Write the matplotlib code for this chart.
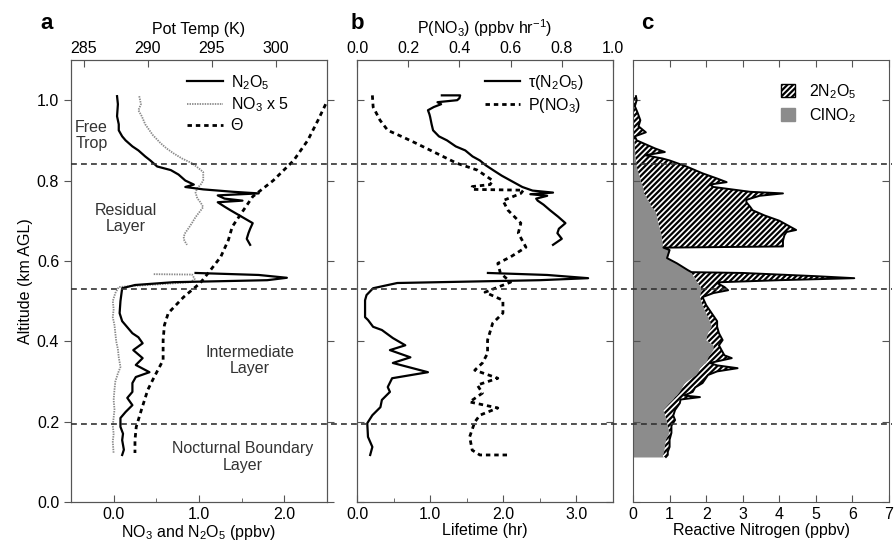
import numpy as np
import matplotlib
matplotlib.use("Agg")
import matplotlib.pyplot as plt
from matplotlib.lines import Line2D
from matplotlib.patches import Patch

plt.rcParams["font.family"] = ["Liberation Sans", "DejaVu Sans"]
plt.rcParams["mathtext.fontset"] = "custom"
plt.rcParams["mathtext.rm"] = "Liberation Sans"
plt.rcParams["mathtext.it"] = "Liberation Sans:italic"
plt.rcParams["mathtext.bf"] = "Liberation Sans:bold"
plt.rcParams["hatch.linewidth"] = 1.6
nan = np.nan

# ---------------- panel a ----------------
alt_n2o5 = [1.01, 0.99, 0.96, 0.94, 0.925, 0.91, 0.90, 0.885, 0.875, 0.86, 0.85, 0.835, 0.826,
            0.815, 0.80, 0.79, 0.784, 0.778, 0.772, 0.768, 0.765, 0.763, 0.755, 0.75, 0.746,
            0.735, 0.726, 0.71, 0.694, 0.68, 0.669, 0.655, 0.64, 0.60,
            0.57, 0.565, 0.558, 0.552, 0.547, 0.54, 0.532, 0.50, 0.47, 0.45, 0.435, 0.42, 0.41,
            0.395, 0.378, 0.358, 0.341, 0.323, 0.311, 0.296, 0.274, 0.259, 0.241, 0.224, 0.209,
            0.187, 0.17, 0.154, 0.13, 0.117]
n2o5 = [0.04, 0.05, 0.04, 0.06, 0.06, 0.10, 0.14, 0.22, 0.29, 0.37, 0.43, 0.51, 0.67,
        0.76, 0.84, 0.94, 0.84, 1.05, 1.40, 1.70, 1.40, 1.22, 1.30, 1.51, 1.22,
        1.30, 1.37, 1.50, 1.63, 1.60, 1.58, 1.56, 1.60, nan,
        0.96, 1.70, 2.03, 1.80, 0.70, 0.25, 0.10, 0.08, 0.07, 0.10, 0.16, 0.22, 0.29,
        0.34, 0.23, 0.34, 0.26, 0.42, 0.26, 0.22, 0.22, 0.16, 0.22, 0.14, 0.08,
        0.08, 0.11, 0.10, 0.12, 0.10]

alt_no3 = [1.01, 0.99, 0.975, 0.96, 0.94, 0.925, 0.913, 0.893, 0.88, 0.868, 0.855, 0.843, 0.83,
           0.821, 0.80, 0.79, 0.781, 0.77, 0.756, 0.745, 0.734, 0.72, 0.709, 0.695, 0.682,
           0.67, 0.66, 0.65, 0.64, 0.60,
           0.567, 0.566, 0.555, 0.547, 0.54, 0.535, 0.52, 0.50, 0.48, 0.46, 0.44, 0.42, 0.40,
           0.38, 0.36, 0.336, 0.32, 0.30, 0.28, 0.254, 0.23, 0.21, 0.19, 0.17, 0.15, 0.12]
no3_x5 = [0.30, 0.32, 0.29, 0.33, 0.37, 0.42, 0.46, 0.55, 0.62, 0.70, 0.80, 0.92, 1.00,
          1.05, 1.05, 1.02, 0.98, 0.96, 0.98, 1.02, 1.05, 1.00, 0.96, 0.92, 0.88,
          0.84, 0.82, 0.83, 0.86, nan,
          0.47, 0.92, 0.95, 0.90, 0.40, 0.06, 0.02, -0.01, 0.00, -0.01, 0.01, 0.02, 0.03,
          0.05, 0.06, 0.08, 0.05, 0.02, 0.01, 0.00, 0.01, 0.00, -0.01, 0.00, -0.01, 0.00]

alt_theta = [0.99, 0.97, 0.95, 0.90, 0.85, 0.80, 0.76, 0.718, 0.685, 0.652, 0.61, 0.577, 0.545,
             0.51, 0.47, 0.44, 0.403, 0.353, 0.311, 0.279, 0.229, 0.187, 0.154, 0.122]
theta = [303.9, 303.6, 303.3, 302.5, 301.4, 299.8, 298.2, 297.3, 296.6, 296.3, 295.7, 294.9, 294.1,
         292.8, 291.6, 291.3, 291.2, 291.2, 290.5, 290.0, 289.5, 289.1, 289.0, 289.0]

# ---------------- panel b ----------------
alt_tau = [1.012, 1.012, 1.005, 1.0, 0.995, 0.99, 0.983, 0.975, 0.965, 0.958, 0.94, 0.925, 0.91,
           0.90, 0.885, 0.875, 0.86, 0.85, 0.838, 0.826, 0.812, 0.80, 0.784, 0.775, 0.77, 0.766,
           0.762, 0.755, 0.75, 0.74, 0.726, 0.71, 0.694, 0.68, 0.669, 0.655, 0.64, 0.60,
           0.57, 0.565, 0.557, 0.552, 0.545, 0.532, 0.515, 0.502, 0.46, 0.453, 0.436, 0.428,
           0.408, 0.39, 0.378, 0.36, 0.346, 0.323, 0.308, 0.286, 0.274, 0.254, 0.236, 0.216,
           0.196, 0.162, 0.137, 0.117]
tau_n2o5 = [1.16, 1.41, 1.40, 1.37, 1.10, 1.15, 1.05, 0.97, 0.99, 1.00, 1.02, 1.04, 1.12,
            1.23, 1.35, 1.48, 1.58, 1.68, 1.76, 1.86, 1.98, 2.10, 2.26, 2.40, 2.68, 2.37,
            2.60, 2.45, 2.47, 2.55, 2.64, 2.75, 2.85, 2.76, 2.74, 2.80, 2.68, nan,
            1.79, 2.60, 3.16, 2.50, 0.55, 0.22, 0.13, 0.11, 0.11, 0.15, 0.22, 0.34,
            0.49, 0.66, 0.45, 0.73, 0.49, 0.97, 0.48, 0.42, 0.45, 0.34, 0.32, 0.21,
            0.14, 0.15, 0.21, 0.18]

alt_pno3 = [1.012, 0.983, 0.95, 0.925, 0.908, 0.893, 0.868, 0.843, 0.826, 0.80, 0.79, 0.785,
            0.778, 0.776, 0.768, 0.75, 0.726, 0.694, 0.669, 0.634, 0.61, 0.594, 0.57, 0.547,
            0.522, 0.502, 0.47, 0.445, 0.403, 0.37, 0.346, 0.328, 0.308, 0.291, 0.271, 0.249,
            0.234, 0.216, 0.199, 0.162, 0.129, 0.117, 0.117]
p_no3 = [0.06, 0.063, 0.09, 0.12, 0.18, 0.23, 0.31, 0.39, 0.47, 0.53, 0.52, 0.45,
         0.45, 0.65, 0.64, 0.57, 0.59, 0.64, 0.63, 0.66, 0.60, 0.55, 0.56, 0.60,
         0.50, 0.57, 0.57, 0.53, 0.51, 0.51, 0.49, 0.46, 0.55, 0.47, 0.49, 0.44,
         0.55, 0.48, 0.46, 0.44, 0.45, 0.48, 0.60]

# ---------------- panel c ----------------
alt_c = [1.01, 1.00, 0.985, 0.97, 0.95, 0.935, 0.92, 0.91, 0.90, 0.89, 0.88, 0.871, 0.863,
         0.855, 0.85, 0.835, 0.818, 0.805, 0.796, 0.79, 0.784, 0.772, 0.768, 0.762, 0.752,
         0.746, 0.735, 0.726, 0.713, 0.70, 0.685, 0.677, 0.672, 0.664, 0.65, 0.636, 0.633,
         0.627, 0.607, 0.594, 0.577, 0.572, 0.570, 0.562, 0.557, 0.552, 0.547, 0.545, 0.535,
         0.527, 0.52, 0.51, 0.49, 0.47, 0.45, 0.436, 0.42, 0.403, 0.39, 0.378, 0.365, 0.358,
         0.346, 0.34, 0.333, 0.325, 0.316, 0.296, 0.285, 0.274, 0.265, 0.261, 0.255, 0.246,
         0.229, 0.215, 0.204, 0.19, 0.172, 0.155, 0.137, 0.125, 0.117, 0.112]
clno2 = [0.0, 0.0, 0.0, 0.0, 0.0, 0.0, 0.0, 0.0, 0.03, 0.05, 0.05, 0.06, 0.06,
         0.08, 0.08, 0.10, 0.15, 0.20, 0.22, 0.25, 0.27, 0.30, 0.30, 0.35, 0.40,
         0.45, 0.50, 0.60, 0.65, 0.68, 0.72, 0.74, 0.76, 0.78, 0.80, 0.82, 0.83,
         1.00, 0.93, 1.20, 1.50, 1.60, 1.60, 1.65, 1.70, 1.72, 1.75, 1.77, 1.85,
         1.90, 1.85, 1.83, 1.90, 2.00, 2.10, 2.15, 2.05, 2.00, 2.20, 2.20, 2.10, 2.05,
         2.00, 1.90, 1.83, 1.80, 1.73, 1.42, 1.35, 1.28, 1.20, 1.15, 1.10, 1.00,
         0.83, 0.88, 0.92, 0.95, 1.00, 0.90, 0.87, 0.85, 0.82, 0.82]
stack_top = [0.08, 0.10, 0.05, 0.12, 0.20, 0.15, 0.35, 0.05, 0.10, 0.35, 0.60, 0.87, 0.33,
             0.80, 1.00, 1.46, 1.90, 2.30, 2.56, 2.10, 2.20, 3.20, 4.10, 3.46, 3.10,
             3.10, 3.20, 3.27, 3.60, 4.00, 4.30, 4.46, 4.20, 4.14, 4.10, 4.10, 0.83,
             1.00, 0.93, 1.20, 1.50, 1.60, 3.00, 5.00, 6.05, 4.00, 2.40, 2.30, 2.50,
             2.60, 2.20, 1.90, 2.00, 2.15, 2.30, 2.30, 2.35, 2.45, 2.35, 2.42, 2.50, 2.70,
             2.10, 2.30, 2.86, 2.30, 2.05, 1.90, 1.70, 1.63, 1.40, 1.83, 1.30, 1.28,
             1.15, 1.10, 1.15, 1.05, 1.05, 1.00, 1.00, 0.95, 0.95, 0.90]

layer_alts = [0.84, 0.53, 0.195]

# ---------------- figure ----------------
fig = plt.figure(figsize=(8.95, 5.52), dpi=100)
ax_w, ax_h, ax_b = 0.286, 0.8007, 0.0906
ax_a = fig.add_axes([0.0793, ax_b, ax_w, ax_h])
ax_bb = fig.add_axes([0.3989, ax_b, ax_w, ax_h])
ax_c = fig.add_axes([0.7073, ax_b, ax_w, ax_h])

spine_col = "#555555"
fs = 11.5
gray = "#8c8c8c"
theta_dash = (0, (1.6, 1.4))

for ax in (ax_a, ax_bb, ax_c):
    ax.set_ylim(0, 1.1)
    ax.set_yticks([0, 0.2, 0.4, 0.6, 0.8, 1.0])
    for sp in ax.spines.values():
        sp.set_color(spine_col)
    ax.tick_params(axis="both", colors=spine_col, labelcolor="black", labelsize=fs,
                   direction="in", length=5, top=True, right=True)
    ax.tick_params(axis="x", which="minor", direction="in", length=3, color=spine_col)

# panel a
ax_a.plot(no3_x5, alt_no3, color="#8a8a8a", lw=1.3, ls=(0, (0.8, 0.6)), label="NO$_3$ x 5")
ax_a.plot(n2o5, alt_n2o5, color="black", lw=1.6, label="N$_2$O$_5$")
ax_a.set_xlim(-0.5, 2.5)
ax_a.set_xticks([0, 1, 2])
ax_a.set_xticklabels(["0.0", "1.0", "2.0"])
ax_a.set_xticks([0.5, 1.5], minor=True)
ax_a.set_yticklabels(["0.0", "0.2", "0.4", "0.6", "0.8", "1.0"])
ax_a.tick_params(axis="y", which="major", left=True, direction="out")
ax_a.tick_params(axis="x", top=False)
ax_a.set_xlabel("NO$_3$ and N$_2$O$_5$ (ppbv)", fontsize=fs, labelpad=1)
ax_a.set_ylabel("Altitude (km AGL)", fontsize=fs, labelpad=3)

ax_at = ax_a.twiny()
ax_at.plot(theta, alt_theta, color="black", lw=2.0, ls=theta_dash, label="\u0398")
ax_at.set_xlim(284, 304)
ax_at.set_xticks([285, 290, 295, 300])
ax_at.tick_params(axis="x", direction="in", length=5, colors=spine_col, labelcolor="black",
                  labelsize=fs, pad=3)
ax_at.set_xlabel("Pot Temp (K)", fontsize=fs, labelpad=5)
for sp in ax_at.spines.values():
    sp.set_color(spine_col)

h1, l1 = ax_a.get_legend_handles_labels()
h2, l2 = ax_at.get_legend_handles_labels()
order = [1, 0]
ax_a.legend([h1[i] for i in order] + h2, [l1[i] for i in order] + l2, loc="upper right",
            bbox_to_anchor=(0.875, 0.985), frameon=False, fontsize=fs, handlelength=2.2,
            labelspacing=0.25, handletextpad=0.5, borderaxespad=0.0)

txt = dict(fontsize=fs, color="#333333")
ax_a.text(-0.45, 0.913, "Free\nTrop", ha="left", va="center", linespacing=1.1, **txt)
ax_a.text(0.14, 0.706, "Residual\nLayer", ha="center", va="center", linespacing=1.1, **txt)
ax_a.text(1.6, 0.353, "Intermediate\nLayer", ha="center", va="center", linespacing=1.1, **txt)
ax_a.text(1.51, 0.112, "Nocturnal Boundary\nLayer", ha="center", va="center",
          linespacing=1.1, **txt)

# panel b
ax_bb.plot(tau_n2o5, alt_tau, color="black", lw=1.6, label="\u03c4(N$_2$O$_5$)")
ax_bb.set_xlim(0, 3.5)
ax_bb.set_xticks([0, 1, 2, 3])
ax_bb.set_xticklabels(["0.0", "1.0", "2.0", "3.0"])
ax_bb.set_xticks([0.5, 1.5, 2.5], minor=True)
ax_bb.set_yticklabels([])
ax_bb.tick_params(axis="x", top=False)
ax_bb.set_xlabel("Lifetime (hr)", fontsize=fs, labelpad=1)

ax_bt = ax_bb.twiny()
ax_bt.plot(p_no3, alt_pno3, color="black", lw=2.0, ls=theta_dash, label="P(NO$_3$)")
ax_bt.set_xlim(0, 1.0)
ax_bt.set_xticks([0, 0.2, 0.4, 0.6, 0.8, 1.0])
ax_bt.set_xticklabels(["0.0", "0.2", "0.4", "0.6", "0.8", "1.0"])
ax_bt.tick_params(axis="x", direction="in", length=5, colors=spine_col, labelcolor="black",
                  labelsize=fs, pad=3)
ax_bt.set_xlabel("P(NO$_3$) (ppbv hr$^{\\mathregular{-1}}$)", fontsize=fs, labelpad=5)
for sp in ax_bt.spines.values():
    sp.set_color(spine_col)

hb1, lb1 = ax_bb.get_legend_handles_labels()
hb2, lb2 = ax_bt.get_legend_handles_labels()
ax_bb.legend(hb1 + hb2, lb1 + lb2, loc="upper right", bbox_to_anchor=(0.91, 0.985),
             frameon=False, fontsize=fs, handlelength=2.2, labelspacing=0.25,
             handletextpad=0.5, borderaxespad=0.0)

# panel c
ax_c.fill_betweenx(alt_c, 0, clno2, color=gray, lw=0)
ax_c.fill_betweenx(alt_c, clno2, stack_top, facecolor="white", edgecolor="black",
                   hatch="//////", lw=0)
ax_c.plot(stack_top, alt_c, color="black", lw=1.4)
ax_c.set_xlim(0, 7)
ax_c.set_xticks(range(8))
ax_c.set_yticklabels([])
ax_c.set_xlabel("Reactive Nitrogen (ppbv)", fontsize=fs, labelpad=1)
ax_c.legend([Patch(facecolor="white", edgecolor="black", hatch="//////", lw=1.0),
             Patch(facecolor=gray, edgecolor=gray)],
            ["2N$_2$O$_5$", "ClNO$_2$"], loc="upper right", bbox_to_anchor=(0.90, 0.965),
            frameon=False, fontsize=fs, handlelength=0.9, handleheight=0.9,
            labelspacing=0.35, handletextpad=0.9, borderaxespad=0.0)

# layer boundaries across all panels
for alt in layer_alts:
    yf = ax_b + alt / 1.1 * ax_h
    fig.add_artist(Line2D([0.0793, 0.997], [yf, yf], transform=fig.transFigure,
                          color="#333333", lw=1.2, ls=(0, (3.5, 2.5))))

# panel letters
for x, s in [(0.045, "a"), (0.392, "b"), (0.716, "c")]:
    fig.text(x, 0.957, s, fontsize=16, fontweight="bold", ha="left", va="center")

fig.savefig("out.png", dpi=100)
